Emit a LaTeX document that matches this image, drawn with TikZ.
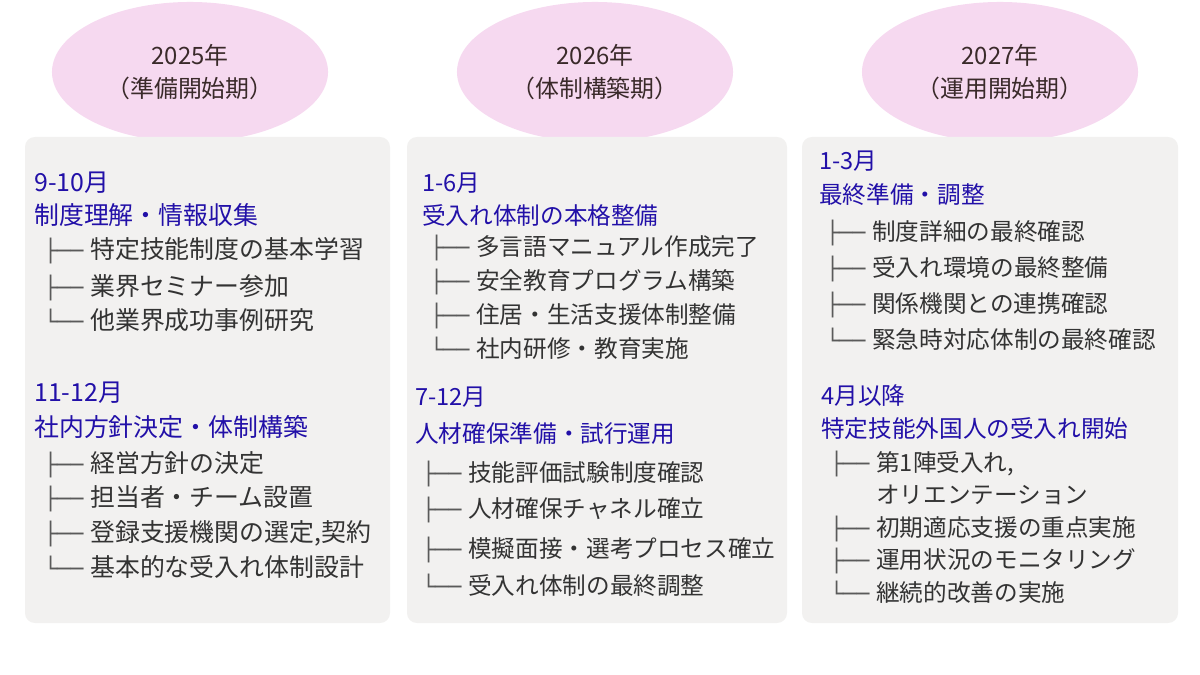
\documentclass[tikz,border=0pt]{standalone}
\usepackage{fontspec}
\setmainfont{Noto Sans CJK JP}
\newfontfamily\treefont{DejaVu Sans Mono}
\usetikzlibrary{shapes.geometric}
\definecolor{phasepink}{HTML}{F6D9F0}
\definecolor{panelgray}{HTML}{F2F1F0}
\definecolor{headblue}{HTML}{2210A8}
\definecolor{bodytext}{HTML}{333333}
\definecolor{treegray}{HTML}{5A5A5A}
\definecolor{phasetext}{HTML}{3A2A2A}
\def\colpt{17.7}
\tikzset{
	phase/.style={ellipse, fill=phasepink, minimum width=6.9cm, minimum height=3.5cm, inner sep=0pt, align=center, text=phasetext, font=\fontsize{17}{23.5}\selectfont},
	head/.style={anchor=west, inner sep=0pt, text height=15pt, text depth=1.6pt, text=headblue, font=\fontsize{\colpt}{21}\selectfont},
	entry/.style={anchor=west, inner sep=0pt, text height=15pt, text depth=1.6pt, text=bodytext, font=\fontsize{\colpt}{21}\selectfont},
	tree/.style={inner sep=0pt, text height=15pt, text depth=1.6pt, text=treegray, font=\treefont\fontsize{15.5}{18}\selectfont},
	branch/.style={label={[tree, label distance=4.5pt]left:#1}},
}
\begin{document}
\begin{tikzpicture}[x=0.025cm, y=-0.025cm]
	\useasboundingbox (0,0) rectangle (1200,675);
	\node[phase] (p25) at (190,72) {2025年\\（準備開始期）};
	\node[phase] (p26) at (595,72) {2026年\\（体制構築期）};
	\node[phase] (p27) at (1000,72) {2027年\\（運用開始期）};
	\fill[panelgray, rounded corners=7pt] (25,137) rectangle (390,623) (407,137) rectangle (787,623) (802,137) rectangle (1178,623);
	% 2025
	\node[head] (a1) at (34,182) {9-10月};
	\node[head] (a2) at (34,215) {制度理解・情報収集};
	\node[entry, branch=├──] (a3) at (90,249) {特定技能制度の基本学習};
	\node[entry, branch=├──] (a4) at (90,286) {業界セミナー参加};
	\node[entry, branch=└──] (a5) at (90,320) {他業界成功事例研究};
	\node[head] (a6) at (34,392) {11-12月};
	\node[head] (a7) at (34,427) {社内方針決定・体制構築};
	\node[entry, branch=├──] (a8) at (90,463) {経営方針の決定};
	\node[entry, branch=├──] (a9) at (90,497) {担当者・チーム設置};
	\node[entry, branch=├──] (a10) at (90,532) {登録支援機関の選定,契約};
	\node[entry, branch=└──] (a11) at (90,567) {基本的な受入れ体制設計};
	\begin{scope}
	\def\colpt{16.8}
	% 2026
	\node[head] (b1) at (422,182) {1-6月};
	\node[head] (b2) at (422,215) {受入れ体制の本格整備};
	\node[entry, branch=├──] (b3) at (476,246) {多言語マニュアル作成完了};
	\node[entry, branch=├──] (b4) at (476,280) {安全教育プログラム構築};
	\node[entry, branch=├──] (b5) at (476,314) {住居・生活支援体制整備};
	\node[entry, branch=└──] (b6) at (476,348) {社内研修・教育実施};
	\node[head] (b7) at (415,396) {7-12月};
	\node[head] (b8) at (415,433) {人材確保準備・試行運用};
	\node[entry, branch=├──] (b9) at (468,472) {技能評価試験制度確認};
	\node[entry, branch=├──] (b10) at (468,508) {人材確保チャネル確立};
	\node[entry, branch=├──] (b11) at (468,548) {模擬面接・選考プロセス確立};
	\node[entry, branch=└──] (b12) at (468,585) {受入れ体制の最終調整};
	% 2027
	\node[head] (c1) at (819,160) {1-3月};
	\node[head] (c2) at (819,194) {最終準備・調整};
	\node[entry, branch=├──] (c3) at (872,231) {制度詳細の最終確認};
	\node[entry, branch=├──] (c4) at (872,267) {受入れ環境の最終整備};
	\node[entry, branch=├──] (c5) at (872,303) {関係機関との連携確認};
	\node[entry, branch=└──] (c6) at (872,339) {緊急時対応体制の最終確認};
	\node[head] (c7) at (821,395) {4月以降};
	\node[head] (c8) at (821,428) {特定技能外国人の受入れ開始};
	\node[entry, branch=├──] (c9) at (876,462) {第1陣受入れ,};
	\node[entry] (c10) at (876,494) {オリエンテーション};
	\node[entry, branch=├──] (c11) at (876,527) {初期適応支援の重点実施};
	\node[entry, branch=├──] (c12) at (876,559) {運用状況のモニタリング};
	\node[entry, branch=└──] (c13) at (876,592) {継続的改善の実施};
	\end{scope}
\end{tikzpicture}
\end{document}
